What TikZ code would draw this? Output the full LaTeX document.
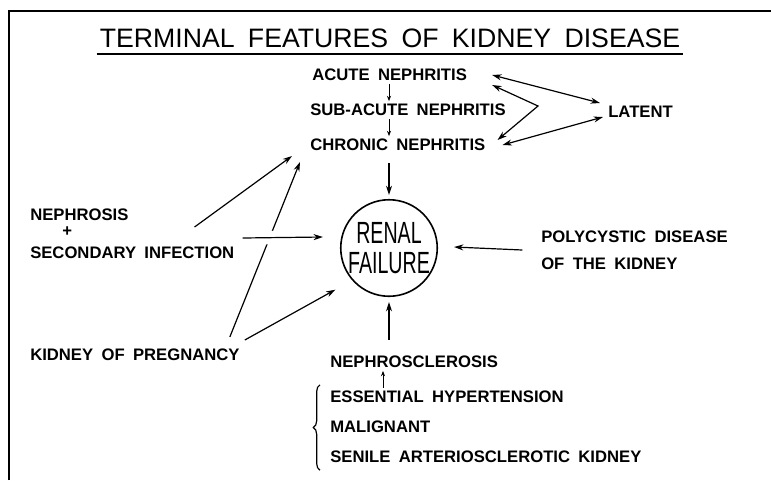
\documentclass[tikz,border=0pt]{standalone}
\usepackage{fontspec}
\setmainfont{Liberation Sans}[WordSpace=1.8]
\usepackage{graphicx}
\usetikzlibrary{arrows.meta,positioning,decorations.pathreplacing}

\begin{document}
\begin{tikzpicture}[x=0.75pt,y=-0.75pt,
  lbl/.style={anchor=west,inner sep=0pt,font=\bfseries\fontsize{12.5}{15}\selectfont},
  arr/.style={-{Stealth[length=7pt,width=4.5pt]},line width=0.9pt},
  darr/.style={{Stealth[length=7pt,width=4.5pt]}-{Stealth[length=7pt,width=4.5pt]},line width=0.9pt},
  sarr/.style={-{Stealth[length=4pt,width=3pt]},line width=0.7pt,shorten <=2pt,shorten >=2pt},
  gap/.style={white,line width=10pt},
]
\useasboundingbox (0,0) rectangle (771,480);
\draw[line width=1.5pt] (9,480) -- (9,11) -- (771,11);

% title
\node[inner sep=0pt,font=\fontsize{20}{24}\selectfont] (title) at (390,38) {TERMINAL FEATURES OF KIDNEY DISEASE};
\draw[line width=1.4pt] ([shift={(-3,6)}]title.south west) -- ([shift={(3,6)}]title.south east);

% nephritis chain
\node[lbl] (acute) at (312,75) {ACUTE NEPHRITIS};
\node[lbl] (subacute) at (310,110) {SUB-ACUTE NEPHRITIS};
\node[lbl] (chronic) at (310,145) {CHRONIC NEPHRITIS};
\node[lbl] (latent) at (608,112) {LATENT};
\coordinate (ax) at (389,0);
\draw[sarr] (ax |- acute.south) -- (ax |- subacute.north);
\draw[sarr] (ax |- subacute.south) -- (ax |- chronic.north);
\coordinate (brk) at (538,106);
\draw[darr] ([shift={(25,0)}]acute.east) -- ([shift={(-8,-9)}]latent.west);
\draw[darr] ([shift={(25,10)}]acute.east) -- (brk) -- ([shift={(12,-5)}]chronic.east);
\draw[darr] ([shift={(17,0)}]chronic.east) -- ([shift={(-5,5)}]latent.west);

% centre
\node[circle,draw,line width=1.2pt,minimum size=70.5pt,inner sep=0pt,align=center,
      font=\fontsize{23}{22.5}\selectfont] (fail) at (389,248)
  {\scalebox{0.64}[1]{RENAL}\\\scalebox{0.64}[1]{FAILURE}};
\draw[arr] ([yshift=-9pt]fail.north |- chronic.south) -- ([yshift=3pt]fail.north);

% left side
\node[lbl] (nephrosis) at (30,215) {NEPHROSIS};
\node[lbl] (plus) at (62,232) {+};
\node[lbl] (secinf) at (30,253) {SECONDARY INFECTION};
\node[lbl] (preg) at (30,355) {KIDNEY OF PREGNANCY};
\draw[arr] ([shift={(-40,-26)}]secinf.east) -- ([shift={(-18,11)}]chronic.west);
\draw[arr] ([shift={(-10,-18)}]preg.east) -- ([shift={(-10,17)}]chronic.west);
\draw[gap,shorten <=17pt,shorten >=34pt] ([shift={(8,-15)}]secinf.east) -- ([shift={(-17,-11)}]fail.west);
\draw[arr] ([shift={(8,-15)}]secinf.east) -- ([shift={(-17,-11)}]fail.west);
\draw[arr] ([shift={(5,-15)}]preg.east) -- ([shift={(-19,7)}]fail.south west);

% right side
\node[lbl,align=left,font=\bfseries\fontsize{12.5}{20}\selectfont] (poly) at (541,250)
  {POLYCYSTIC DISEASE\\OF THE KIDNEY};
\draw[arr] ([xshift=-14pt]poly.west) -- ([shift={(16,-1)}]fail.east);

% below
\node[lbl] (nsc) at (330,362) {NEPHROSCLEROSIS};
\node[lbl] (ess) at (330,397) {ESSENTIAL HYPERTENSION};
\node[lbl] (mal) at (330,427) {MALIGNANT};
\node[lbl] (sen) at (330,457) {SENILE ARTERIOSCLEROTIC KIDNEY};
\draw[arr] ([yshift=12pt]fail.south |- nsc.north) -- ([yshift=-3.75pt]fail.south);
\coordinate (nx) at (383,0);
\draw[sarr] (nx |- ess.north) -- (nx |- nsc.south);
\draw[line width=0.9pt,decorate,decoration={brace,amplitude=5pt}]
  ([shift={(-10,7)}]sen.south west) -- ([shift={(-10,-6)}]ess.north west);
\end{tikzpicture}
\end{document}
